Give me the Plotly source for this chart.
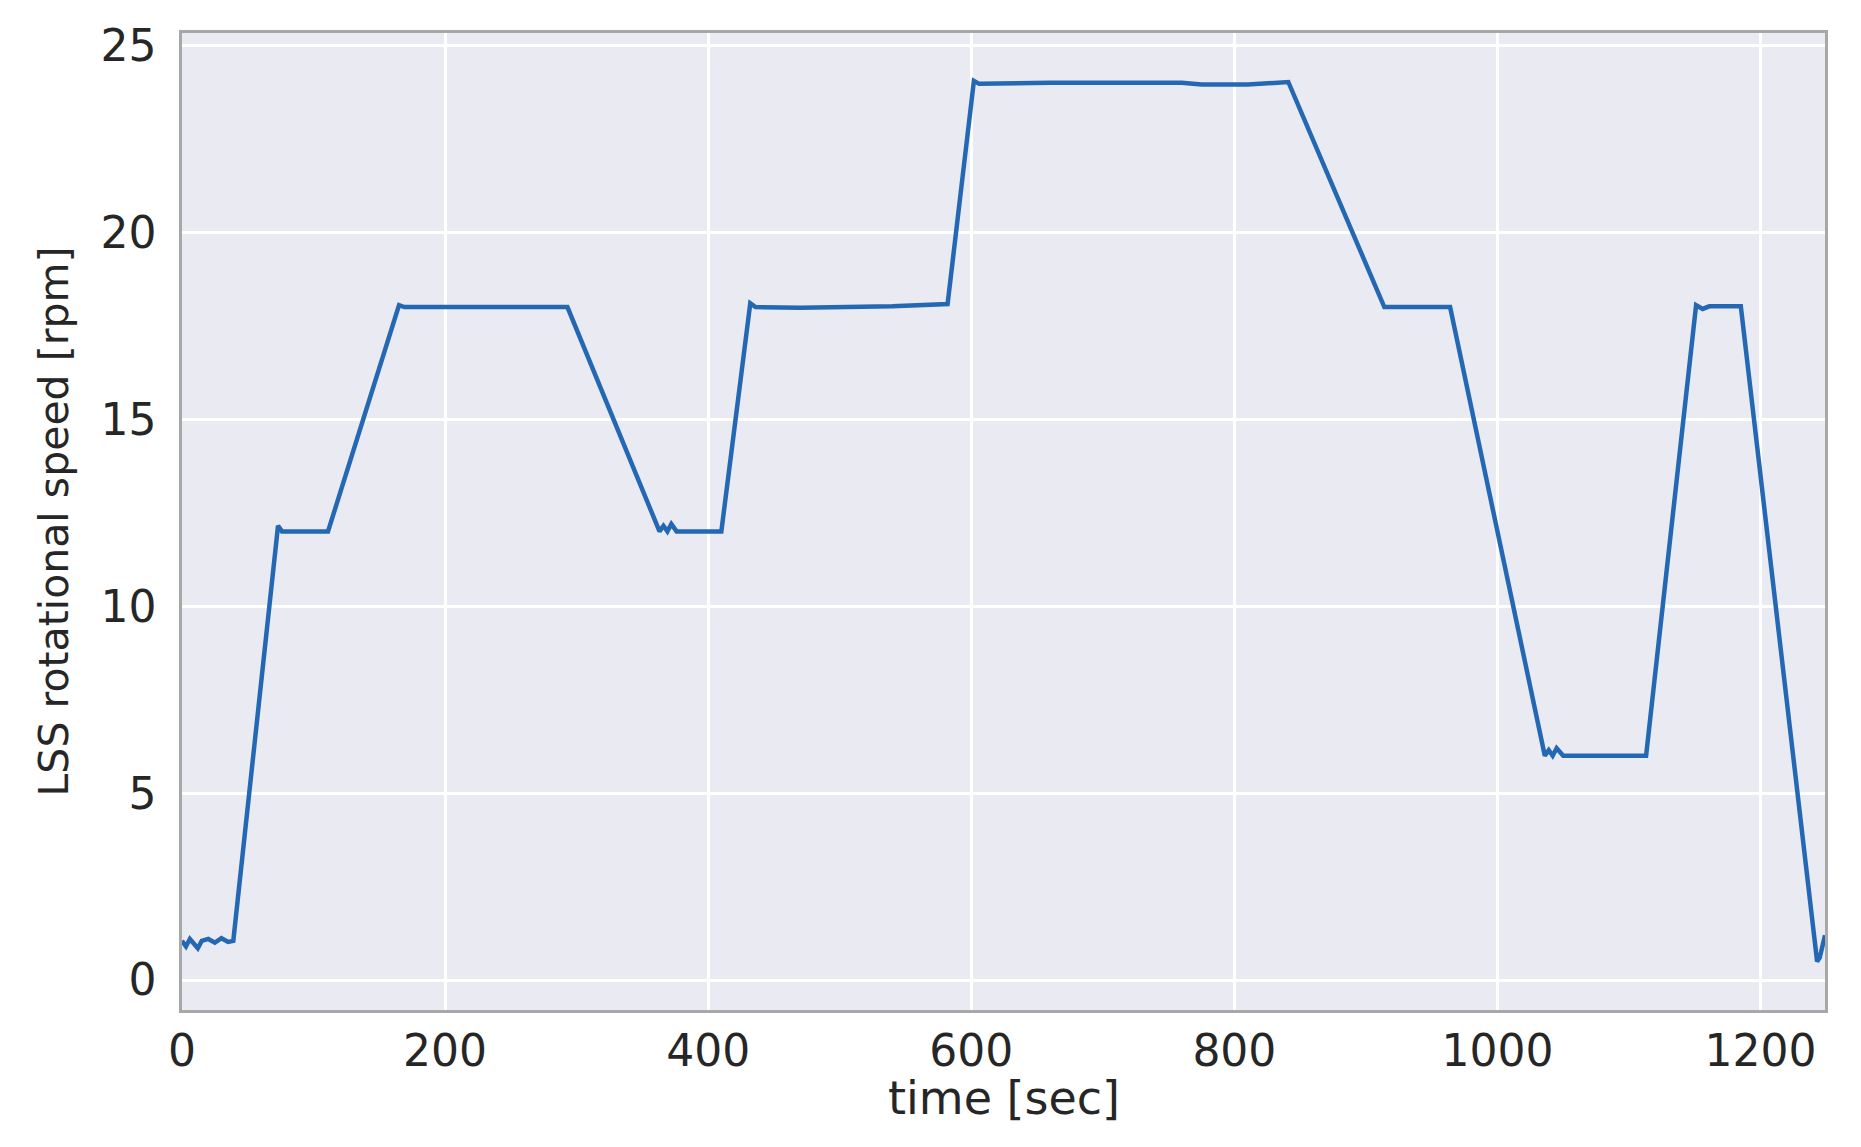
import plotly.graph_objects as go

# LSS rotational speed over time
time_sec = [0, 3, 6, 9, 12, 15, 20, 25, 30, 35, 39,
            73, 76, 111, 165, 169, 293,
            363, 366, 369, 372, 376, 410,
            432, 436, 470, 540, 582,
            602, 606, 620, 660, 760, 775, 810, 830, 841,
            914, 964, 1036, 1039, 1042, 1045, 1050, 1113,
            1151, 1156, 1161, 1185, 1243, 1245, 1249]
speed_rpm = [1.05, 0.9, 1.1, 0.95, 0.85, 1.05, 1.1, 1.0, 1.12, 1.02, 1.05,
             12.15, 12.0, 12.0, 18.05, 18.0, 18.0,
             12.0, 12.15, 12.0, 12.2, 12.0, 12.0,
             18.1, 18.0, 17.98, 18.02, 18.08,
             24.05, 23.97, 23.98, 24.0, 24.0, 23.95, 23.95, 24.0, 24.02,
             18.0, 18.0, 6.0, 6.15, 6.0, 6.2, 6.0, 6.0,
             18.05, 17.95, 18.02, 18.02, 0.5, 0.6, 1.2]

x_ticks = [0, 200, 400, 600, 800, 1000, 1200]
y_ticks = [0, 5, 10, 15, 20, 25]

font_family = "DejaVu Sans"
text_color = "#262626"

fig = go.Figure()
fig.add_trace(go.Scatter(
    x=time_sec,
    y=speed_rpm,
    mode="lines",
    line=dict(color="#2468b4", width=4.5),
    showlegend=False,
))

fig.update_layout(
    width=1861,
    height=1147,
    paper_bgcolor="white",
    plot_bgcolor="#eaeaf2",
    margin=dict(l=174, r=44, t=22, b=145),
    font=dict(family=font_family, size=44, color=text_color),
)

fig.update_xaxes(
    range=[0, 1249],
    tickvals=x_ticks,
    showgrid=True, gridcolor="white", gridwidth=2.5,
    zeroline=False,
    showline=True, mirror=True, linecolor="#a8a8a8", linewidth=2.5,
    ticks="", 
    tickfont=dict(size=44, color=text_color),
)
fig.update_yaxes(
    range=[-0.8, 25.33],
    tickvals=y_ticks,
    showgrid=True, gridcolor="white", gridwidth=2.5,
    zeroline=False,
    showline=True, mirror=True, linecolor="#a8a8a8", linewidth=2.5,
    ticks="outside", ticklen=14, tickcolor="rgba(0,0,0,0)",
    tickfont=dict(size=44, color=text_color),
    title=dict(text="LSS rotational speed [rpm]", font=dict(size=41, color=text_color), standoff=20),
)

# x-axis title placed a bit closer to the tick labels than plotly's default
fig.add_annotation(
    text="time [sec]",
    xref="paper", yref="paper",
    x=0.5, y=-0.09,
    xanchor="center", yanchor="middle",
    showarrow=False,
    font=dict(size=46, color=text_color),
)

fig.write_html("out.html")
